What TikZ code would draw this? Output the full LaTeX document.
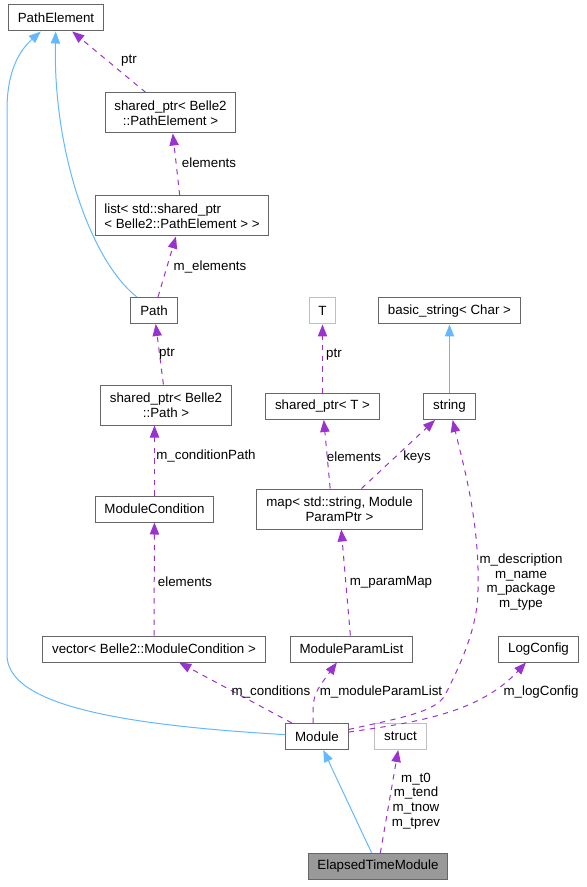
\documentclass[tikz,border=0pt]{standalone}
\usepackage{fontspec}
\setmainfont{Liberation Sans}
\usetikzlibrary{arrows.meta}
\definecolor{boxgray}{HTML}{666666}
\definecolor{lightgray}{HTML}{BFBFBF}
\definecolor{nodefill}{HTML}{999999}
\definecolor{usepurple}{HTML}{9A32CD}
\definecolor{inhblue}{HTML}{63B8FF}

\begin{document}
\begin{tikzpicture}[x=0.75pt,y=-0.75pt,
  txt/.style={font=\fontsize{10}{11}\selectfont},
  cls/.style={rectangle,draw=boxgray,line width=0.75pt,inner xsep=7pt,inner ysep=2pt,minimum height=19.5pt,align=center,txt},
  twoline/.style={minimum height=30pt},
  ghost/.style={draw=lightgray},
  lbl/.style={inner sep=0pt,align=center,txt},
  inherit/.style={draw=inhblue,line width=0.75pt,-{Triangle[length=9pt,width=7pt]}},
  uses/.style={draw=usepurple,line width=0.75pt,dash pattern=on 4pt off 4pt,-{Triangle[length=9pt,width=7pt]}}]
\useasboundingbox (0,0) rectangle (586,887);

\begin{scope}[every node/.style={cls}]
\node (pe) at (56,18) {PathElement};
\node[twoline] (spe) at (170.5,113) {shared\_ptr< Belle2\\::PathElement >};
\node[twoline,align=left] (lst) at (182,216) {list< std::shared\_ptr\\< Belle2::PathElement > >};
\node (path) at (154,310.5) {Path};
\node[twoline] (spp) at (166,405) {shared\_ptr< Belle2\\::Path >};
\node (mc) at (154.5,509) {ModuleCondition};
\node (vec) at (154,649) {vector< Belle2::ModuleCondition >};
\node (mpl) at (351.5,649) {ModuleParamList};
\node (lc) at (538.5,649) {LogConfig};
\node (mod) at (317,736.5) {Module};
\node[ghost] (st) at (400.5,736.5) {struct};
\node[fill=nodefill] (etm) at (378,866.5) {ElapsedTimeModule};
\node[twoline] (map) at (339.5,509) {map< std::string, Module\\ParamPtr >};
\node[ghost] (T) at (322.5,311) {T};
\node (bs) at (449.5,311) {basic\_string< Char >};
\node (spt) at (322.5,406.5) {shared\_ptr< T >};
\node (str) at (449.5,406.5) {string};
\end{scope}

% inheritance
\draw[inherit] (path) .. controls (90,260) and (53,150) .. (pe);
\draw[inherit] (mod) .. controls (120,725) and (7,705) .. (7,655) -- (7,110) .. controls (7,70) and (20,50) .. (pe);
\draw[inherit] (str) -- (bs);
\draw[inherit] (etm) -- (mod);

% usage
\draw[uses] (spe) -- (pe);
\draw[uses] (lst) -- (spe);
\draw[uses] (path) -- (lst);
\draw[uses] (spp) -- (path);
\draw[uses] (mc.north) -- (mc.north |- spp.south);
\draw[uses] (vec) -- (mc);
\draw[uses] (mod) -- (vec);
\draw[uses] ([xshift=-3pt]mod.north) .. controls (313,695) .. ([xshift=-11pt]mpl.south);
\draw[uses] (mpl) -- (map);
\draw[uses] ([xshift=-7pt]map.north) -- (spt);
\draw[uses] (map) -- (str);
\draw[uses] (spt) -- (T);
\draw[uses] (mod) .. controls (400,718) and (436,712) .. (445,695) .. controls (462,662) and (478,625) .. (478,590) .. controls (480,520) and (462,460) .. (str);
\draw[uses] (mod) .. controls (420,722) and (480,712) .. (lc);
\draw[uses] (etm) -- (st);

\node[lbl] (l1) at (129,61) {ptr};
\node[lbl] (l2) at (209,163) {elements};
\node[lbl] (l3) at (210,267) {m\_elements};
\node[lbl] (l4) at (167,354) {ptr};
\node[lbl] (l5) at (206,456) {m\_conditionPath};
\node[lbl] (l6) at (185,582) {elements};
\node[lbl] (l7) at (271,692) {m\_conditions};
\node[lbl] (l8) at (381,692) {m\_moduleParamList};
\node[lbl] (l9) at (391,582) {m\_paramMap};
\node[lbl] (l10) at (354,457) {elements};
\node[lbl] (l11) at (417,457) {keys};
\node[lbl] (l12) at (334,355) {ptr};
\node[lbl] (l13) at (521,582) {m\_description\\m\_name\\m\_package\\m\_type};
\node[lbl] (l14) at (541,692) {m\_logConfig};
\node[lbl] (l15) at (416,801) {m\_t0\\m\_tend\\m\_tnow\\m\_tprev};
\end{tikzpicture}
\end{document}
